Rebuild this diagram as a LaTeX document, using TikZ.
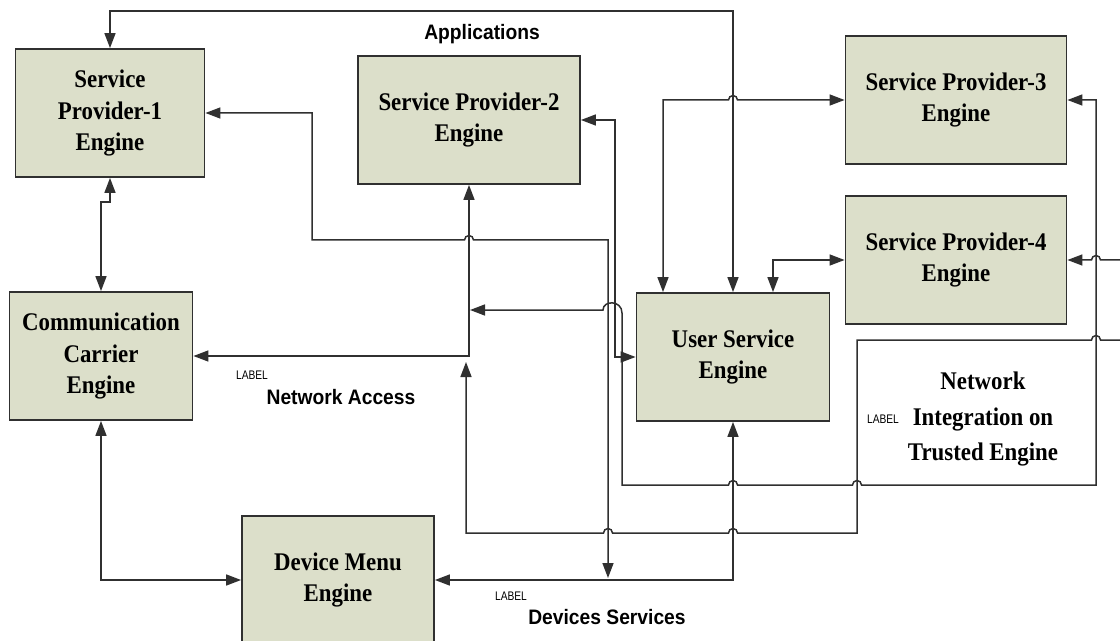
\documentclass[tikz,border=0pt]{standalone}
\usepackage{fontspec}
\setmainfont{Liberation Serif}
\setsansfont{Liberation Sans}
\newfontfamily\engfont{Liberation Serif}[FakeStretch=0.9]
\newfontfamily\busfont{Liberation Sans}[FakeStretch=0.92]
\newfontfamily\tagfont{Liberation Sans}[FakeStretch=0.82]
\usetikzlibrary{arrows.meta}
\definecolor{enginefill}{HTML}{DCDFCA}
\definecolor{wire}{HTML}{303030}
% hop over a crossing wire, going right / going left
\newcommand{\hopR}[2]{-- (#1-4.5,#2) arc[start angle=180,end angle=360,radius=4.5]}
\newcommand{\hopL}[2]{-- (#1+4.5,#2) arc[start angle=360,end angle=180,radius=4.5]}
\begin{document}
\begin{tikzpicture}[x=1bp,y=-1bp,engine/.style={shape=rectangle,draw=wire,line width=1.8bp,fill=enginefill,minimum height=128bp,inner sep=0pt,align=center,font=\engfont\bfseries\fontsize{25.5}{31.5}\selectfont},wireline/.style={draw=wire,line width=1.5bp,>={Triangle[length=15bp,width=11bp]}},busname/.style={font=\busfont\bfseries\fontsize{21}{22}\selectfont,inner sep=0pt},tag/.style={font=\tagfont\fontsize{12.5}{13}\selectfont,inner sep=0pt}]
\useasboundingbox (0,0) rectangle (1120,641);
\clip (0,0) rectangle (1120,641);

\node[engine,minimum width=189bp] (sp1) at (110,113) {Service\\Provider-1\\Engine};
\node[engine,minimum width=222bp] (sp2) at (469,120) {Service Provider-2\\Engine};
\node[engine,minimum width=221bp] (sp3) at (956,100) {Service Provider-3\\Engine};
\node[engine,minimum width=221bp] (sp4) at (956,260) {Service Provider-4\\Engine};
\node[engine,minimum width=183bp] (cce) at (101,356) {Communication\\Carrier\\Engine};
\node[engine,minimum width=193bp] (use) at (733,357) {User Service\\Engine};
\node[engine,minimum width=192bp] (dme) at (338,580) {Device Menu\\Engine};
\node[align=center,font=\engfont\bfseries\fontsize{25.5}{36}\selectfont] (nit) at (983,419) {Network\\Integration on\\Trusted Engine};

\node[busname] (apps) at (482,34) {Applications};
\node[tag] (tagNA) at (252,375) {LABEL};
\node[busname] (netacc) at (341,397) {Network Access};
\node[tag] (tagDS) at (511,596) {LABEL};
\node[busname] (devserv) at (607,617) {Devices Services};
\node[tag] (tagNI) at (883,419) {LABEL};

\coordinate (tapNA) at (470,310);
\coordinate (tapNB) at (466,362);
\coordinate (devTap) at (608,578);
\coordinate (edgeNI) at (1120,340);
\coordinate (edgeSP4) at (1120,260);

\draw[wireline,<->] (sp1.north) -- ++(0,-37) -| (use.north);
\draw[wireline,<->] ([xshift=-70bp]use.north) -- (663,100) \hopR{733}{100} -- (sp3.west);
\draw[wireline,<->] ([xshift=40bp]use.north) |- (sp4.west);
\draw[wireline,<->] (sp1.east) -| (312,240) \hopR{469}{240} -| (devTap);
\draw[wireline,<->] (sp2.east) -| (615,357) -- (use.west);
\draw[wireline,<->] (sp2.south) |- (cce.east);
\draw[wireline,<->] (sp3.east) -| (1096,485) \hopL{857}{485} \hopL{733}{485} -- (622,485) -- (622,313) .. controls (622,300) and (603,300) .. (603,310) -- (tapNA);
\draw[wireline,->] (edgeNI) \hopL{1096}{340} -| (857,533) \hopL{733}{533} \hopL{608}{533} -| (tapNB);
\draw[wireline,->] (edgeSP4) \hopL{1096}{260} -- (sp4.east);
\draw[wireline,<->] (use.south) |- (dme.east);
\draw[wireline,<->] (sp1.south) -- ++(0,24) -| (cce.north);
\draw[wireline,<->] (cce.south) |- (dme.west);
\end{tikzpicture}
\end{document}
